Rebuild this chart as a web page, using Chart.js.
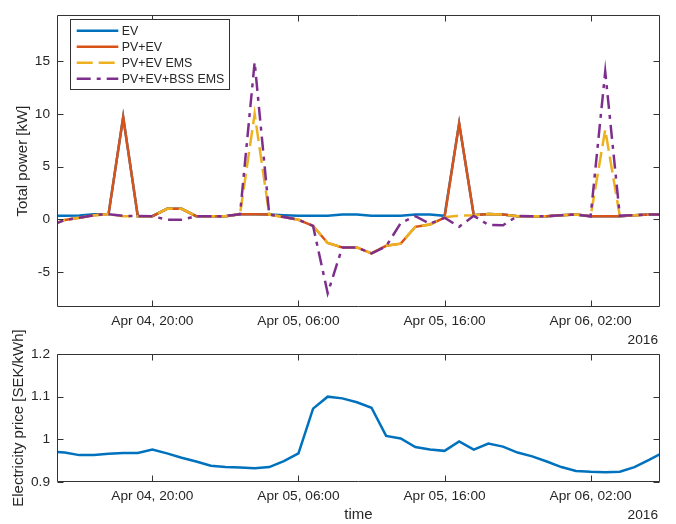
<!DOCTYPE html>
<html><head><meta charset="utf-8">
<script src="https://cdn.jsdelivr.net/npm/chart.js@4.4.1/dist/chart.umd.min.js"></script>
<style>
html,body{margin:0;padding:0;background:#fff;}
#wrap{position:relative;width:676px;height:524px;overflow:hidden;background:#fff;}
#c1{position:absolute;left:0;top:0;width:676px;height:350px;}
#c2{position:absolute;left:0;top:330px;width:676px;height:194px;}
</style></head><body>
<div id="wrap"><canvas id="c1" width="676" height="350"></canvas><canvas id="c2" width="676" height="194"></canvas></div>
<script>
// hours since Apr 04 2016 00:00
const hours = [13,14,15,16,17,18,19,20,21,22,23,24,25,26,27,28,29,30,31,32,33,34,35,36,37,38,39,40,41,42,43,44,45,46,47,48,49,50,51,52,53,54,55];
const evPower = [0.34,0.34,0.38,0.48,0.50,9.70,0.31,0.31,1.00,1.00,0.31,0.31,0.31,0.50,0.50,0.46,0.40,0.34,0.34,0.34,0.46,0.46,0.34,0.34,0.34,0.46,0.46,0.34,9.10,0.40,0.52,0.46,0.30,0.30,0.30,0.40,0.46,0.30,0.30,0.30,0.40,0.46,0.46];
const pvEvPower = [-0.60,-0.05,0.15,0.40,0.50,9.70,0.31,0.31,1.00,1.00,0.31,0.31,0.31,0.50,0.50,0.46,0.22,-0.03,-0.62,-2.23,-2.65,-2.65,-3.22,-2.50,-2.30,-0.70,-0.48,0.16,9.10,0.40,0.52,0.46,0.30,0.30,0.30,0.40,0.46,0.30,0.30,0.30,0.40,0.46,0.46];
const pvEvEmsPower = [-0.60,-0.05,0.15,0.40,0.50,0.31,0.31,0.31,1.00,1.00,0.31,0.31,0.31,0.50,10.00,0.46,0.22,-0.03,-0.62,-2.23,-2.65,-2.65,-3.22,-2.50,-2.30,-0.70,-0.48,0.20,0.37,0.40,0.52,0.46,0.30,0.30,0.30,0.40,0.46,0.30,8.50,0.30,0.40,0.46,0.46];
const pvEvBssEmsPower = [-0.60,-0.05,0.15,0.40,0.50,0.33,0.33,0.31,-0.03,-0.03,0.31,0.31,0.31,0.50,14.90,0.46,0.22,-0.03,-0.62,-7.00,-2.65,-2.65,-3.22,-2.55,-0.35,0.31,-0.42,0.16,-0.70,0.34,-0.52,-0.55,0.32,0.30,0.30,0.40,0.46,0.30,14.00,0.35,0.40,0.46,0.46];
const price = [0.972,0.969,0.963,0.963,0.966,0.968,0.968,0.976,0.967,0.957,0.948,0.938,0.935,0.934,0.932,0.935,0.949,0.967,1.072,1.100,1.096,1.087,1.074,1.008,1.002,0.982,0.976,0.973,0.995,0.976,0.990,0.983,0.969,0.960,0.948,0.935,0.926,0.924,0.923,0.924,0.935,0.952,0.970];
const xTickHours = [20,30,40,50];
const xTickLabels = ['Apr 04, 20:00','Apr 05, 06:00','Apr 05, 16:00','Apr 06, 02:00'];
const powerTicks = [-5,0,5,10,15];
const priceTicks = [0.9,1,1.1,1.2];
const priceTickLabels = ['0.9','1','1.1','1.2'];
const yearLabel = '2016';

const FONT = '"Liberation Sans", Arial, Helvetica, sans-serif';
const TXT = '#262626';
Chart.defaults.font.family = FONT;
Chart.defaults.color = TXT;

const X_MIN = 13.47, X_MAX = 54.75;

function pts(arr){ return hours.map((h,i)=>({x:h, y:arr[i]})); }
function ds(label, arr, color, dash, order){
  return {label, data: pts(arr), borderColor: color, backgroundColor: color, borderWidth: 2.5,
    borderDash: dash, borderCapStyle: 'butt', borderJoinStyle: 'miter', pointRadius: 0,
    fill: false, tension: 0, order};
}

const axesPlugin = {id:'axbox', afterDatasetsDraw(chart){
  const {ctx, chartArea:a, scales} = chart;
  ctx.save(); ctx.strokeStyle = '#333'; ctx.lineWidth = 1; ctx.setLineDash([]);
  const L = Math.round(a.left)+0.5, R = Math.round(a.right)-0.5, T = Math.round(a.top)+0.5, B = Math.round(a.bottom)-0.5;
  ctx.beginPath();
  scales.x.ticks.forEach(t=>{ const p = Math.round(scales.x.getPixelForValue(t.value))+0.5;
    ctx.moveTo(p,B); ctx.lineTo(p,B-6); ctx.moveTo(p,T); ctx.lineTo(p,T+6); });
  scales.y.ticks.forEach(t=>{ const p = Math.round(scales.y.getPixelForValue(t.value))+0.5;
    ctx.moveTo(L,p); ctx.lineTo(L+6,p); ctx.moveTo(R,p); ctx.lineTo(R-6,p); });
  ctx.rect(L,T,R-L,B-T);
  ctx.stroke(); ctx.restore();
}};
const yearPlugin = {id:'year', afterDraw(chart){
  const {ctx, chartArea:a} = chart;
  ctx.save(); ctx.fillStyle = TXT; ctx.font = '13.7px '+FONT; ctx.textAlign='right'; ctx.textBaseline='middle';
  ctx.fillText(yearLabel, a.right-2, a.bottom+33.5); ctx.restore();
}};
const legendPlugin = {id:'mlegend', afterDraw(chart){
  const ctx = chart.ctx; ctx.save();
  ctx.fillStyle = '#fff'; ctx.fillRect(70.5,19.5,159,70);
  ctx.strokeStyle = '#333'; ctx.lineWidth = 1; ctx.strokeRect(70.5,19.5,159,70);
  chart.data.datasets.forEach((d,i)=>{
    const y = 30.7 + i*16;
    ctx.beginPath(); ctx.setLineDash(d.borderDash||[]); ctx.lineWidth = d.borderWidth; ctx.strokeStyle = d.borderColor;
    ctx.lineCap = 'butt'; ctx.moveTo(76.7,y); ctx.lineTo(118.3,y); ctx.stroke();
    ctx.setLineDash([]); ctx.fillStyle = TXT; ctx.font = '12.4px '+FONT; ctx.textBaseline='middle'; ctx.textAlign='left';
    ctx.fillText(d.label, 121.7, y+0.5);
  });
  ctx.restore();
}};

function xScale(h){
  return {type:'linear', min:X_MIN, max:X_MAX,
    afterBuildTicks: s=>{ s.ticks = xTickHours.map(v=>({value:v})); },
    afterFit: s=>{ s.height = h; },
    grid:{display:false, drawTicks:false}, border:{display:false},
    ticks:{padding:6, maxRotation:0, autoSkip:false, font:{size:13.7}, color:TXT,
      callback: v=>xTickLabels[xTickHours.indexOf(v)]}};
}

new Chart(document.getElementById('c1'), {
  type:'line',
  data:{datasets:[
    ds('EV', evPower, '#0072BD', [], 4),
    ds('PV+EV', pvEvPower, '#D95319', [], 3),
    ds('PV+EV EMS', pvEvEmsPower, '#EDB120', [16,6], 2),
    ds('PV+EV+BSS EMS', pvEvBssEmsPower, '#7E2F8E', [14,6,4,6], 1)
  ]},
  options:{
    responsive:false, animation:false, devicePixelRatio:1,
    layout:{padding:{left:0,right:16,top:5,bottom:0}},
    plugins:{legend:{display:false}, tooltip:{enabled:false}},
    scales:{
      x: xScale(43),
      y:{type:'linear', min:-8.3, max:19.35,
        afterBuildTicks: s=>{ s.ticks = powerTicks.map(v=>({value:v})); },
        afterFit: s=>{ s.width = 57; },
        grid:{display:false, drawTicks:false}, border:{display:false},
        ticks:{padding:7, font:{size:13.7}, color:TXT, callback: v=>String(v)},
        title:{display:true, text:'Total power [kW]', font:{size:15}, color:TXT, padding:{top:13.5,bottom:0}}}
    }
  },
  plugins:[axesPlugin, yearPlugin, legendPlugin]
});

const x2 = xScale(42);
x2.title = {display:true, text:'time', font:{size:15}, color:TXT, padding:{top:0,bottom:0}};
new Chart(document.getElementById('c2'), {
  type:'line',
  data:{datasets:[ ds('Electricity price', price, '#0072BD', [], 1) ]},
  options:{
    responsive:false, animation:false, devicePixelRatio:1,
    layout:{padding:{left:0,right:16,top:24,bottom:0}},
    plugins:{legend:{display:false}, tooltip:{enabled:false}},
    scales:{
      x: x2,
      y:{type:'linear', min:0.9, max:1.2,
        afterBuildTicks: s=>{ s.ticks = priceTicks.map(v=>({value:v})); },
        afterFit: s=>{ s.width = 57; },
        grid:{display:false, drawTicks:false}, border:{display:false},
        ticks:{padding:7, font:{size:13.7}, color:TXT, callback: (v)=>priceTickLabels[priceTicks.indexOf(v)]},
        title:{display:true, text:'Electricity price [SEK/kWh]', font:{size:15}, color:TXT, padding:{top:10,bottom:0}}}
    }
  },
  plugins:[axesPlugin, yearPlugin]
});
</script>
</body></html>
